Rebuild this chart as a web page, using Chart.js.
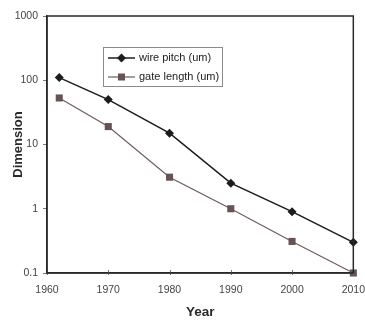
<!DOCTYPE html>
<html>
<head>
<meta charset="utf-8">
<script src="https://cdn.jsdelivr.net/npm/chart.js@4"></script>
<style>
html,body{margin:0;padding:0;background:#fff;}
#wrap{width:365px;height:320px;}
</style>
</head>
<body>
<div id="wrap"><canvas id="c" width="365" height="320"></canvas></div>
<script>
const years = [1962, 1970, 1980, 1990, 2000, 2010];
const wirePitch = [110, 50, 15, 2.5, 0.9, 0.3];
const gateLength = [53, 19, 3.1, 1.0, 0.31, 0.1];
const seriesNames = ['wire pitch (um)', 'gate length (um)'];
const yTickValues = [0.1, 1, 10, 100, 1000];
const xTickValues = [1960, 1970, 1980, 1990, 2000, 2010];
const xTitle = 'Year';
const yTitle = 'Dimension';

const FONT = '"Liberation Sans", Arial, sans-serif';
const colors = {
  wire: '#1c1c1c',
  gate: '#6e5c5c',
  gateMarker: '#665353'
};

const toPts = (xs, ys) => xs.map((x, i) => ({x: x, y: ys[i]}));

const framePlugin = {
  id: 'frame',
  afterDatasetsDraw(chart) {
    const {ctx, chartArea: a} = chart;
    ctx.save();
    // x ticks cross the axis line
    ctx.strokeStyle = '#777';
    ctx.lineWidth = 1;
    const xs = chart.scales.x;
    xTickValues.forEach(v => {
      const px = Math.round(xs.getPixelForValue(v)) + 0.5;
      ctx.beginPath();
      ctx.moveTo(px, a.bottom - 3);
      ctx.lineTo(px, a.bottom + 2);
      ctx.stroke();
    });
    ctx.strokeStyle = '#2a2a2a';
    ctx.lineWidth = 1.5;
    ctx.strokeRect(a.left, a.top, a.right - a.left, a.bottom - a.top);
    ctx.restore();
  },
  afterDraw(chart) {
    const ctx = chart.ctx;
    ctx.save();
    // legend box
    const bx = 103.5, by = 47.5, bw = 119, bh = 39;
    ctx.fillStyle = '#ffffff';
    ctx.fillRect(bx, by, bw, bh);
    ctx.strokeStyle = '#8a8a8a';
    ctx.lineWidth = 1;
    ctx.strokeRect(bx, by, bw, bh);
    const rows = [
      {y: 58, line: colors.wire, lw: 1.5, marker: 'diamond', mc: colors.wire, text: seriesNames[0]},
      {y: 77, line: colors.gate, lw: 1.2, marker: 'square', mc: colors.gateMarker, text: seriesNames[1]}
    ];
    rows.forEach(r => {
      ctx.strokeStyle = r.line;
      ctx.lineWidth = r.lw;
      ctx.beginPath();
      ctx.moveTo(108, r.y);
      ctx.lineTo(135, r.y);
      ctx.stroke();
      ctx.fillStyle = r.mc;
      ctx.beginPath();
      if (r.marker === 'diamond') {
        ctx.moveTo(121.5, r.y - 4.5);
        ctx.lineTo(126, r.y);
        ctx.lineTo(121.5, r.y + 4.5);
        ctx.lineTo(117, r.y);
        ctx.closePath();
      } else {
        ctx.rect(118, r.y - 3.5, 7, 7);
      }
      ctx.fill();
      ctx.fillStyle = '#222';
      ctx.font = '11px ' + FONT;
      ctx.textBaseline = 'middle';
      ctx.textAlign = 'left';
      ctx.fillText(r.text, 139, r.y);
    });
    ctx.restore();
  }
};

new Chart(document.getElementById('c'), {
  type: 'scatter',
  data: {
    datasets: [
      {
        label: seriesNames[0],
        data: toPts(years, wirePitch),
        showLine: true,
        borderColor: colors.wire,
        backgroundColor: colors.wire,
        borderWidth: 1.5,
        pointStyle: 'rectRot',
        pointRadius: 4.5,
        pointHoverRadius: 4.5,
        pointBorderWidth: 0,
        clip: false
      },
      {
        label: seriesNames[1],
        data: toPts(years, gateLength),
        showLine: true,
        borderColor: colors.gate,
        backgroundColor: colors.gateMarker,
        borderWidth: 1.2,
        pointStyle: 'rect',
        pointRadius: 5,
        pointHoverRadius: 5,
        pointBorderWidth: 0,
        clip: false
      }
    ]
  },
  options: {
    responsive: false,
    animation: false,
    events: [],
    layout: {padding: {left: 0, top: 16, right: 11, bottom: 0}},
    plugins: {legend: {display: false}, tooltip: {enabled: false}},
    scales: {
      x: {
        type: 'linear',
        min: 1960,
        max: 2010,
        afterBuildTicks(s) { s.ticks = xTickValues.map(v => ({value: v})); },
        afterFit(s) { s.height = 47; },
        grid: {display: true, drawOnChartArea: false, drawTicks: true, tickLength: 11, color: 'rgba(0,0,0,0)'},
        border: {display: true, color: '#2a2a2a', width: 1.5},
        ticks: {
          color: '#444',
          font: {family: FONT, size: 10.5},
          padding: 0,
          maxRotation: 0,
          callback: v => String(v)
        },
        title: {
          display: true,
          text: xTitle,
          color: '#2a2a2a',
          font: {family: FONT, size: 13.5, weight: 'bold'},
          padding: {top: 4, bottom: 0}
        }
      },
      y: {
        type: 'logarithmic',
        min: 0.1,
        max: 1000,
        afterBuildTicks(s) { s.ticks = yTickValues.map(v => ({value: v})); },
        afterFit(s) { s.width = 47; },
        grid: {display: true, drawOnChartArea: false, drawTicks: true, tickLength: 4, color: '#777'},
        border: {display: true, color: '#2a2a2a', width: 1.5},
        ticks: {
          color: '#444',
          font: {family: FONT, size: 10.5},
          padding: 5,
          callback: v => String(v)
        },
        title: {
          display: true,
          text: yTitle,
          color: '#2a2a2a',
          font: {family: FONT, size: 13, weight: 'bold'},
          padding: {top: 11, bottom: 0}
        }
      }
    }
  },
  plugins: [framePlugin]
});
</script>
</body>
</html>
